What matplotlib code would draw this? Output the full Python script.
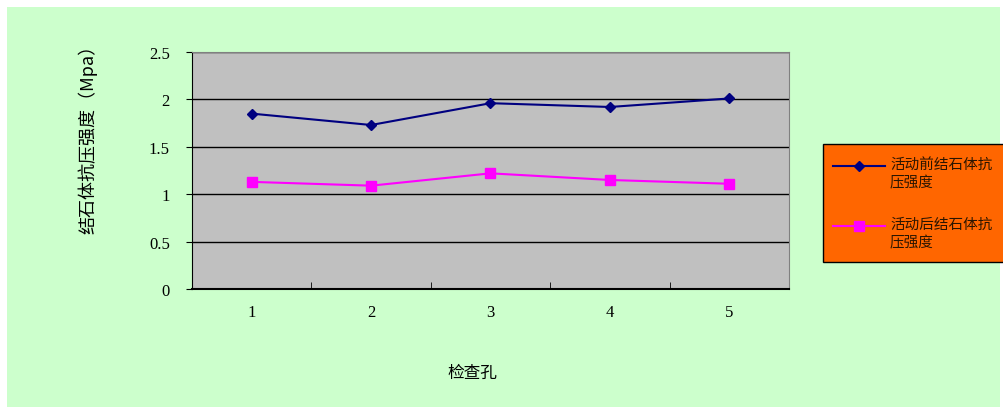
import matplotlib
matplotlib.use("Agg")
import matplotlib.pyplot as plt
from matplotlib.patches import Rectangle
from matplotlib.lines import Line2D

categories = ["1", "2", "3", "4", "5"]
before = [1.85, 1.73, 1.96, 1.92, 2.01]
after = [1.13, 1.09, 1.22, 1.15, 1.11]
series_names = ["活动前结石体抗\n压强度", "活动后结石体抗\n压强度"]
yticks = [0, 0.5, 1, 1.5, 2, 2.5]
ytick_labels = ["0", "0.5", "1", "1.5", "2", "2.5"]

cjk = ["Noto Sans CJK SC", "DejaVu Sans"]
serif = ["Liberation Serif", "DejaVu Serif"]

W, H = 1004, 410
fig = plt.figure(figsize=(W/100, H/100), dpi=100)
fig.patch.set_facecolor("white")
fig.patches.append(Rectangle((7/W, 2/H), 993/W, 400/H, transform=fig.transFigure,
                             facecolor="#CCFFCC", edgecolor="none", zorder=-10))

ax = fig.add_axes([192/W, 1-290/H, 597/W, 237/H])
ax.set_facecolor("#C0C0C0")
x = list(range(1, len(categories)+1))
styles = [dict(color="#000080", marker="D", markersize=5.5),
          dict(color="#FF00FF", marker="s", markersize=7)]
for vals, name, st in zip([before, after], series_names, styles):
    ax.plot(x, vals, linewidth=1.5, label=name, zorder=3, **st)

ax.set_xlim(0.5, 5.5)
ax.set_ylim(0, 2.5)
ax.set_yticks(yticks)
ax.set_yticklabels(ytick_labels, family=serif, fontsize=12)
ax.set_xticks(x)
ax.set_xticklabels(categories, family=serif, fontsize=12)
ax.set_xticks([1.5, 2.5, 3.5, 4.5], minor=True)
ax.tick_params(axis="x", which="major", length=0, pad=11)
ax.tick_params(axis="x", which="minor", length=5, direction="in", color="black")
ax.tick_params(axis="y", which="major", length=4, direction="out", pad=12, color="black")
ax.yaxis.grid(True, color="black", linewidth=1)
ax.set_axisbelow(True)
for s in ["top", "right"]:
    ax.spines[s].set_color("#808080")
ax.spines["left"].set_color("black")
ax.spines["bottom"].set_color("black")
ax.spines["bottom"].set_linewidth(1.5)

fig.text(88/W, 1-135/H, "结石体抗压强度（Mpa）", rotation=90, ha="center", va="center",
         family=cjk, fontsize=13)
fig.text(472/W, 1-373/H, "检查孔", ha="center", va="center", family=cjk, fontsize=12)

# legend box (manual, so the handle aligns with the first text line as in the reference)
fig.patches.append(Rectangle((823/W, 1-263/H), 190/W, 118/H, transform=fig.transFigure,
                             facecolor="#FF6600", edgecolor="black", linewidth=1, zorder=5))
for i, (name, st) in enumerate(zip(series_names, styles)):
    yc = 167 + 60*i
    fig.add_artist(Line2D([833/W, 885/W], [1-yc/H, 1-yc/H], transform=fig.transFigure,
                          linewidth=1.5, zorder=6, color=st["color"]))
    fig.add_artist(Line2D([859/W], [1-yc/H], transform=fig.transFigure, linestyle="none",
                          zorder=7, **st))
    fig.text(890/W, 1-(yc-9)/H, name, ha="left", va="top", family=cjk, fontsize=10.5,
             color="#2a1500", linespacing=1.35, zorder=8)

fig.savefig("out.png", dpi=100, facecolor="white")
